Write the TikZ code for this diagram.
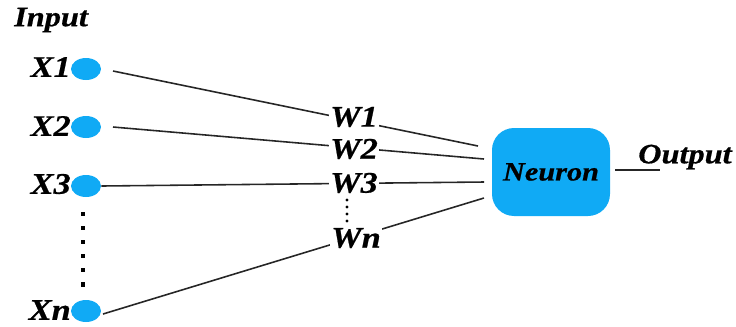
\documentclass[tikz,border=0pt]{standalone}
\usepackage{fontspec}
\usetikzlibrary{shapes.geometric}
\setmainfont{Liberation Serif}
\newfontfamily\lfont[FakeStretch=1.15,FakeBold=0.6]{Liberation Serif}
\definecolor{nblue}{RGB}{16,170,245}
\begin{document}
\begin{tikzpicture}[x=0.02cm,y=-0.02cm,
  lbl/.style={font=\fontsize{17}{17}\lfont\bfseries\itshape, inner sep=0.5pt},
  wlbl/.style={lbl, fill=white},
  inp/.style={ellipse, fill=nblue, minimum width=0.6cm, minimum height=0.44cm, inner sep=0pt},
  conn/.style={line width=0.9pt, black!85}]
\useasboundingbox (0,0) rectangle (736,326);
\node[lbl, anchor=west, font=\fontsize{16}{16}\lfont\bfseries\itshape] (input) at (13,20) {Input};
\node[inp] (x1) at (86,69) {};
\node[inp] (x2) at (86,127) {};
\node[inp] (x3) at (86,186) {};
\node[inp] (xn) at (86,311) {};
\node[lbl, anchor=east] (lx1) at (72,67) {X1};
\node[lbl, anchor=east] (lx2) at (72,126) {X2};
\node[lbl, anchor=east] (lx3) at (72,184) {X3};
\node[lbl, anchor=east] (lxn) at (72,310) {X\textit{n}};
\node[fill=nblue, rounded corners=0.44cm, minimum width=2.36cm, minimum height=1.76cm, inner sep=0pt,
  font=\fontsize{15}{15}\lfont\bfseries\itshape] (neuron) at (551,172) {Neuron};
\coordinate (e1) at (478,146);
\coordinate (e2) at (484,159);
\coordinate (e3) at (484,182);
\coordinate (en) at (484,198);
\coordinate (o1) at (615,170);
\coordinate (o2) at (660,170);
\coordinate (d1) at (83,212);
\coordinate (d2) at (83,296);
\draw[conn] (113,71) coordinate (s1) -- (e1);
\draw[conn] (113,127) coordinate (s2) -- (e2);
\draw[conn] (x3.east) -- (e3);
\draw[conn] (103,314) coordinate (sn) -- (en);
\draw[conn] (o1) -- (o2);
\draw[line width=2.4pt, dash pattern=on 2.4pt off 5.6pt] (d1) -- (d2);
\node[wlbl] (w1) at (354,117) {W1};
\node[wlbl] (w2) at (354,149) {W2};
\node[wlbl] (w3) at (354,183) {W3};
\node[wlbl] (wn) at (356,238) {W\textit{n}};
\foreach \yy in {200,207,214,221} \fill (347,\yy) circle (1.6);
\node[lbl, anchor=west, font=\fontsize{16}{16}\lfont\bfseries\itshape] (out) at (637,157) {Output};
\end{tikzpicture}
\end{document}
